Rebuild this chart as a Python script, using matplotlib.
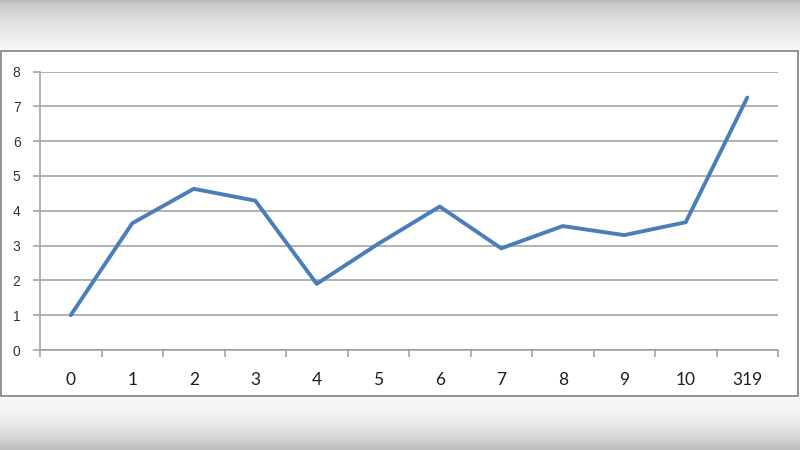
import matplotlib.pyplot as plt
import numpy as np
from matplotlib.patches import Rectangle

# category labels and series values
labels = ["0", "1", "2", "3", "4", "5", "6", "7", "8", "9", "10", "319"]
values = [1.0, 3.64, 4.63, 4.29, 1.9, 3.05, 4.12, 2.92, 3.56, 3.30, 3.67, 7.25]
y_ticks = [0, 1, 2, 3, 4, 5, 6, 7, 8]

fig = plt.figure(figsize=(8, 4.5), dpi=100)

# grey screenshot bands above and below the chart
bg = fig.add_axes([0, 0, 1, 1])
bg.axis("off")
ramp_top = np.linspace(0, 1, 51) ** 0.6
ramp_bot = np.linspace(0, 1, 54) ** 2
shade = np.concatenate([
    0.73 + 0.24 * ramp_top,
    np.ones(345),
    0.965 - 0.22 * ramp_bot,
])[:, None]
bg.imshow(shade, cmap="gray", vmin=0, vmax=1, aspect="auto",
          extent=[0, 800, 450, 0])
bg.set_xlim(0, 800)
bg.set_ylim(450, 0)
bg.add_patch(Rectangle((1, 51), 797, 345, facecolor="white",
                       edgecolor="#8a8a8a", lw=1.3))

grid_col = "#9c9c9c"
ax = fig.add_axes([40 / 800, 100 / 450, 738 / 800, 278.5 / 450])
x = np.arange(len(values))
ax.plot(x, values, color="#4a7ebb", lw=2.8, solid_joinstyle="round",
        solid_capstyle="round", zorder=3)

ax.set_xlim(-0.5, len(values) - 0.5)
ax.set_ylim(0, 8)
ax.set_yticks(y_ticks)
ax.yaxis.grid(True, color=grid_col, lw=1.1)
ax.set_axisbelow(True)

for side in ["top", "right"]:
    ax.spines[side].set_visible(False)
for side in ["left", "bottom"]:
    ax.spines[side].set_color(grid_col)
    ax.spines[side].set_linewidth(1.1)

ax.set_xticks(x)
ax.set_xticklabels(labels, fontsize=12.5, family="Lato", color="#1e1e1e")
ax.set_xticks(np.arange(-0.5, len(values)), minor=True)
ax.tick_params(axis="x", which="major", length=0, pad=16)
ax.tick_params(axis="x", which="minor", length=5, width=1.1, color=grid_col)
ax.tick_params(axis="y", length=5, width=1.1, color=grid_col, pad=9,
               labelsize=10, labelcolor="#333333")
for t in ax.get_yticklabels():
    t.set_family("Liberation Sans")

fig.savefig("out.png", dpi=100)
